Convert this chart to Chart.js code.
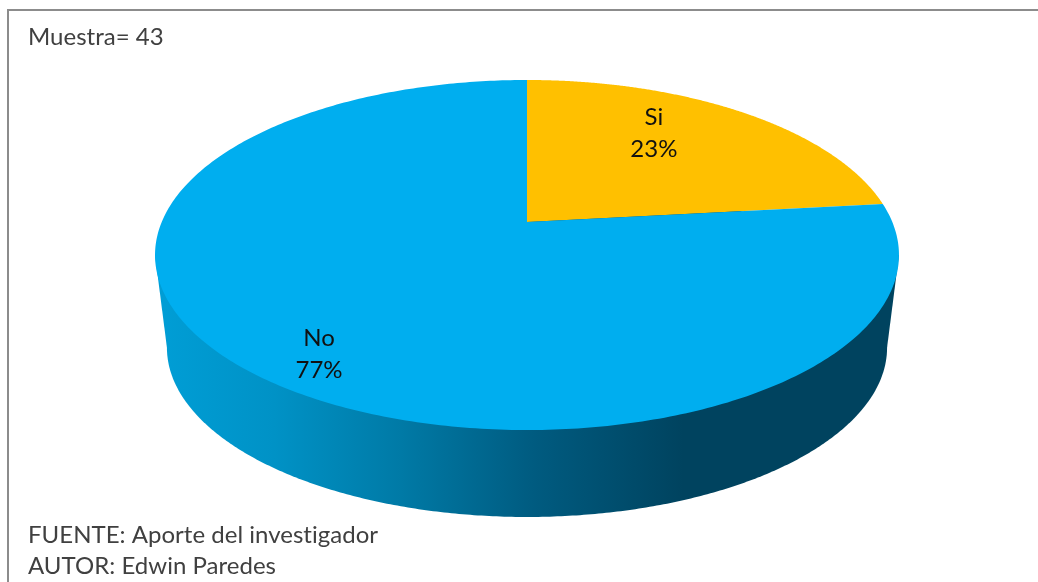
<!DOCTYPE html>
<html><head><meta charset="utf-8">
<style>html,body{margin:0;padding:0;background:#fff}canvas{display:block;filter:blur(0.5px)}</style>
<script src="https://cdn.jsdelivr.net/npm/chart.js@4"></script>
</head><body><canvas id="c" width="1038" height="582"></canvas>
<script>
const categories = ['Si', 'No'];
const values = [10, 33];
const percentLabels = ['23%', '77%'];
const sampleText = 'Muestra= 43';
const footerLines = ['FUENTE: Aporte del investigador', 'AUTOR: Edwin Paredes'];
const sliceColors = ['#ffc000', '#00aeef'];

const FONT = 'Lato, sans-serif';
// perspective of the tilted disc
const K = 0.1886, SX = 365.3 / 142, SY = 168.8 / 142;
const WALL_DROP = 93.6, WALL_SCALE = 0.968, TANGENT = 0.19;
// label anchor: radial fraction and horizontal nudge per slice
const labelAnchor = [{r: 0.78, dx: -44.5}, {r: 0.915, dx: 48}];

function project(el, theta, rf, drop = 0, scale = 1) {
  const R = el.outerRadius, u = Math.cos(theta) * rf, v = -Math.sin(theta) * rf;
  const w = 1 + K * v;
  return {
    x: el.x + scale * SX * R * u / w,
    y: el.y + drop - scale * SY * R * v / w
  };
}

const ArcEl = (Chart.elements && Chart.elements.ArcElement) || Chart.ArcElement;
ArcEl.prototype.draw = function (ctx) {
  const a0 = this.startAngle, a1 = this.endAngle, n = 360;
  ctx.save();
  ctx.beginPath();
  ctx.moveTo(this.x, this.y);
  for (let i = 0; i <= n; i++) {
    const p = project(this, a0 + (a1 - a0) * i / n, 1);
    ctx.lineTo(p.x, p.y);
  }
  ctx.closePath();
  ctx.fillStyle = this.options.backgroundColor;
  ctx.fill();
  ctx.restore();
};

const framePlugin = {
  id: 'frame',
  beforeDatasetsDraw(chart) {
    const ctx = chart.ctx, el = chart.getDatasetMeta(0).data[0];
    ctx.save();
    ctx.fillStyle = '#8c8c8c';
    ctx.fillRect(7, 9, 1031, 2);
    ctx.fillRect(7, 9, 2, 573);

    // side wall: lower rim joined to the top rim
    const g = ctx.createLinearGradient(155, 0, 899, 0);
    g.addColorStop(0, '#009ed6');
    g.addColorStop(0.16, '#0092c6');
    g.addColorStop(0.33, '#007aa6');
    g.addColorStop(0.51, '#005b80');
    g.addColorStop(0.71, '#00435f');
    g.addColorStop(1, '#00435f');
    ctx.fillStyle = g;
    ctx.beginPath();
    const n = 720;
    for (let i = 0; i <= n; i++) {
      const t = 2 * Math.PI * i / n;
      const p = project(el, t, 1, WALL_DROP, WALL_SCALE);
      i ? ctx.lineTo(p.x, p.y) : ctx.moveTo(p.x, p.y);
    }
    ctx.closePath();
    ctx.fill();
    ctx.beginPath();
    const tr = project(el, TANGENT, 1), br = project(el, TANGENT, 1, WALL_DROP, WALL_SCALE);
    const bl = project(el, Math.PI - TANGENT, 1, WALL_DROP, WALL_SCALE), tl = project(el, Math.PI - TANGENT, 1);
    ctx.moveTo(tl.x, tl.y); ctx.lineTo(tr.x, tr.y); ctx.lineTo(br.x, br.y); ctx.lineTo(bl.x, bl.y);
    ctx.closePath();
    ctx.fill();
    ctx.restore();
  },
  afterDatasetsDraw(chart) {
    const ctx = chart.ctx, arcs = chart.getDatasetMeta(0).data;
    ctx.save();
    ctx.font = '24px ' + FONT;
    if ('letterSpacing' in ctx) ctx.letterSpacing = '0.02px';
    ctx.textAlign = 'center';
    ctx.textBaseline = 'middle';
    ctx.fillStyle = '#111';
    arcs.forEach((el, i) => {
      const mid = (el.startAngle + el.endAngle) / 2;
      const p = project(el, mid, labelAnchor[i].r);
      ctx.fillText(categories[i], p.x + labelAnchor[i].dx, p.y - 16);
      ctx.fillText(percentLabels[i], p.x + labelAnchor[i].dx, p.y + 16);
    });
    ctx.textAlign = 'left';
    ctx.fillStyle = '#404040';
    ctx.fillText(sampleText, 28, 37);
    footerLines.forEach((t, i) => ctx.fillText(t, 28, 535 + i * 31));
    ctx.restore();
  }
};

new Chart(document.getElementById('c'), {
  type: 'pie',
  data: {
    labels: categories,
    datasets: [{ data: values, backgroundColor: sliceColors, borderWidth: 0 }]
  },
  options: {
    responsive: false,
    animation: false,
    layout: { padding: { left: 155, right: 139, top: 80, bottom: 218 } },
    plugins: { legend: { display: false }, tooltip: { enabled: false } }
  },
  plugins: [framePlugin]
});
</script></body></html>
